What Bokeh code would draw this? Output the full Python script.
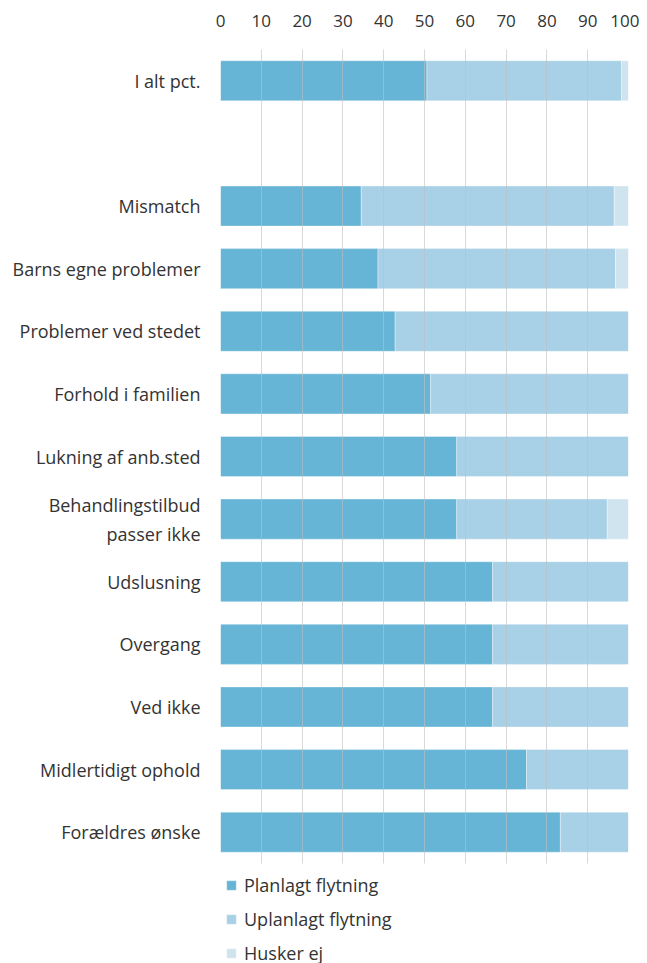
from bokeh.plotting import figure
from bokeh.models import ColumnDataSource, FactorRange, Legend, LegendItem
from bokeh.embed import file_html
from bokeh.resources import INLINE

categories = ["I alt pct.", "Mismatch", "Barns egne problemer", "Problemer ved stedet",
              "Forhold i familien", "Lukning af anb.sted", "Behandlingstilbud\npasser ikke",
              "Udslusning", "Overgang", "Ved ikke", "Midlertidigt ophold", "Forældres ønske"]
planlagt = [50.6, 34.5, 38.6, 42.8, 51.5, 57.9, 57.9, 66.7, 66.7, 66.7, 75.0, 83.3]
uplanlagt = [47.7, 62.0, 58.2, 57.2, 48.5, 42.1, 36.9, 33.3, 33.3, 33.3, 25.0, 16.7]
husker_ej = [1.7, 3.5, 3.2, 0.0, 0.0, 0.0, 5.2, 0.0, 0.0, 0.0, 0.0, 0.0]
series = ["Planlagt flytning", "Uplanlagt flytning", "Husker ej"]
colors = ["#66b5d6", "#a8d0e6", "#d0e4f0"]
x_ticks = [0, 10, 20, 30, 40, 50, 60, 70, 80, 90, 100]

factors = [categories[0], " "] + categories[1:]
factors_rev = list(reversed(factors))

src = ColumnDataSource(dict(cat=categories, p=planlagt, u=uplanlagt, h=husker_ej))

FONT = "Open Sans"
p = figure(frame_width=408, frame_height=814, y_range=FactorRange(factors=factors_rev),
           x_range=(0, 100), output_backend="svg", toolbar_location=None,
           x_axis_location="above", min_border_left=220, min_border_right=11,
           min_border_top=49, min_border_bottom=0)

rs = p.hbar_stack(["p", "u", "h"], y="cat", height=0.64, color=colors, source=src,
                  line_color="white", line_alpha=0.35, line_width=1)

p.outline_line_color = None
p.ygrid.grid_line_color = None
p.xgrid.grid_line_color = "#bfbfbf"
p.xgrid.grid_line_alpha = 0.6
p.xgrid.level = "overlay"
p.xaxis.ticker = x_ticks
for ax in (p.xaxis[0], p.yaxis[0]):
    ax.axis_line_color = None
    ax.major_tick_line_color = None
    ax.minor_tick_line_color = None
    ax.major_label_text_font = FONT
    ax.major_label_text_color = "#333333"
p.xaxis.major_label_text_font_size = "17px"
p.yaxis.major_label_text_font_size = "18px"
p.xaxis.major_label_standoff = 17
p.yaxis.major_label_standoff = 14

legend = Legend(items=[LegendItem(label=s, renderers=[r]) for s, r in zip(series, rs)],
                orientation="vertical", location="top_left",
                label_text_font=FONT, label_text_font_size="18px",
                label_text_color="#333333", glyph_width=12, glyph_height=12,
                label_height=34, spacing=0, padding=12, margin=5,
                label_standoff=7, border_line_color=None, background_fill_alpha=0)
p.add_layout(legend, "below")

open("out.html", "w").write(file_html(p, INLINE))
